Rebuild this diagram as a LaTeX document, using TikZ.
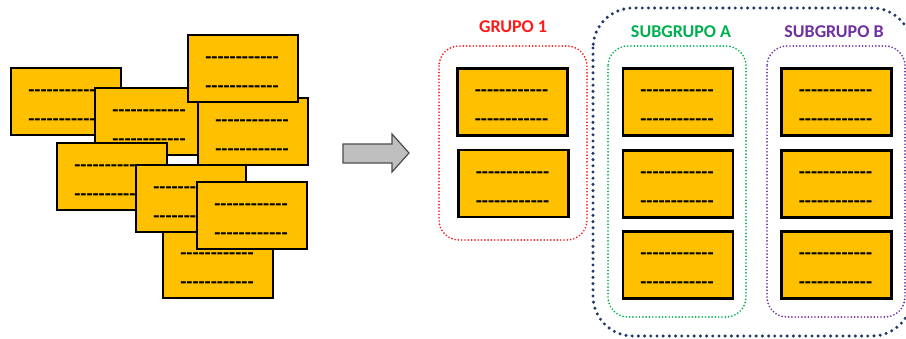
\documentclass[tikz,border=0pt]{standalone}
\usepackage{fontspec}
\setmainfont{Carlito}
\newfontfamily\dashfont[Ligatures=TeXOff]{Carlito}
\usetikzlibrary{positioning}

\definecolor{cardfill}{HTML}{FFC000}
\definecolor{grupored}{HTML}{FF1A1A}
\definecolor{subgreen}{HTML}{00B050}
\definecolor{subpurple}{HTML}{7030A0}
\definecolor{mainblue}{HTML}{223A6B}
\newcommand\dashrow{------------}

\begin{document}
\begin{tikzpicture}[x=1pt,y=-1pt,
    cardbox/.style={draw=black,line width=2.5pt,fill=cardfill,
      minimum width=110pt,minimum height=67pt,inner sep=0pt},
    dashtxt/.style={anchor=base,inner sep=0pt,
      font=\dashfont\bfseries\fontsize{20}{24}\selectfont},
    card/.pic={
      \node[cardbox] (-box) at (0,0) {};
      \node[dashtxt] (-top) at (-1,-5) {\dashrow};
      \node[dashtxt] (-bot) at (-1,24) {\dashrow};
    },
    dots/.style={line cap=round,dash pattern=on 0pt off #1},
    grplabel/.style={font=\bfseries\fontsize{18}{20}\selectfont,inner sep=0pt}]
       \clip (0,0) rectangle (906,339);

       % groups
       \draw[mainblue,line width=3.4pt,dots=6.2pt,rounded corners=40pt] (593,8) rectangle (912,336);
       \draw[subgreen,line width=1.9pt,dots=3.3pt,rounded corners=20pt] (608,46) rectangle (746,317);
       \draw[subpurple,line width=1.9pt,dots=3.3pt,rounded corners=20pt] (767,46) rectangle (905,317);
       \draw[grupored,line width=1.9pt,dots=3.3pt,rounded corners=20pt] (439,46) rectangle (587,240);

       \node[grplabel,text=grupored] (lg1) at (513,27) {GRUPO 1};
       \node[grplabel,text=subgreen] (lsa) at (681,32) {SUBGRUPO A};
       \node[grplabel,text=subpurple] (lsb) at (834,32) {SUBGRUPO B};

       % grupo 1
       \pic (g1) at (512.5,102) {card};
       \pic (g2) at (513.5,183.5) {card};

       % subgrupo A
       \pic (a1) at (678,102) {card};
       \pic (a2) at (678,184) {card};
       \pic (a3) at (678,265) {card};

       % subgrupo B
       \pic (b1) at (836.5,102) {card};
       \pic (b2) at (836.5,184) {card};
       \pic (b3) at (836.5,265) {card};

       % arrow
       \draw[fill=gray!50,draw=black!70,line width=1.2pt,line join=miter]
         (343,144) -- (392,144) -- (392,134) -- (409,153) -- (392,172) -- (392,163) -- (343,163) -- cycle;

       % pile of cards
       \pic (p1) at (66,101.5) {card};
       \pic (p2) at (150,121.5) {card};
       \pic (p4) at (253,131.5) {card};
       \pic (p3) at (243,68.5) {card};
       \pic (p5) at (112,176.5) {card};
       \pic (p7) at (218,264.5) {card};
       \pic (p6) at (191,198.5) {card};
       \pic (p8) at (252,215.5) {card};
\end{tikzpicture}
\end{document}
